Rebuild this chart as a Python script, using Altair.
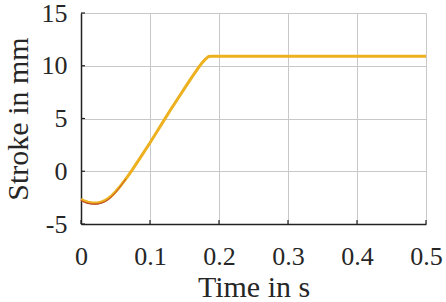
import altair as alt
import pandas as pd

# Time in s and stroke in mm
t_vals = [0.0, 0.005, 0.01, 0.015, 0.02, 0.025, 0.03, 0.035, 0.04, 0.045, 0.05, 0.055, 0.06,
          0.065, 0.07, 0.075, 0.08, 0.09, 0.10, 0.11, 0.12, 0.13, 0.14, 0.15, 0.16, 0.17,
          0.175, 0.18, 0.185, 0.19, 0.25, 0.3, 0.35, 0.4, 0.45, 0.5]
stroke_a = [-2.65, -2.82, -2.93, -2.99, -3.0, -2.98, -2.9, -2.76, -2.55, -2.28, -1.95, -1.57, -1.15,
            -0.72, -0.27, 0.2, 0.7, 1.7, 2.7, 3.75, 4.8, 5.85, 6.85, 7.85, 8.85, 9.8,
            10.25, 10.6, 10.88, 10.9, 10.9, 10.9, 10.9, 10.9, 10.9, 10.9]
stroke_b = [-2.75, -2.92, -3.03, -3.09, -3.1, -3.08, -3.0, -2.86, -2.65, -2.36, -2.02, -1.62, -1.18,
            -0.74, -0.28, 0.2, 0.7, 1.7, 2.7, 3.75, 4.8, 5.85, 6.85, 7.85, 8.85, 9.8,
            10.25, 10.6, 10.88, 10.9, 10.9, 10.9, 10.9, 10.9, 10.9, 10.9]
x_ticks = [0, 0.1, 0.2, 0.3, 0.4, 0.5]
y_ticks = [-5, 0, 5, 10, 15]

W, H = 345, 211
FONT = "Liberation Serif"

df = pd.DataFrame({"t": t_vals, "a": stroke_a, "b": stroke_b})

xs = alt.Scale(domain=[0, 0.5], nice=False, zero=False)
ys = alt.Scale(domain=[-5, 15], nice=False, zero=False)

xaxis = alt.Axis(values=x_ticks, title="Time in s", labelPadding=19, titlePadding=3,
                 labelExpr="toString(datum.value)", labelFlush=False)
yaxis = alt.Axis(values=y_ticks, title="Stroke in mm", labelPadding=14, titlePadding=8,
                 labelExpr="toString(datum.value)")

base = alt.Chart(df)
red = base.mark_line(color="#A2142F", strokeWidth=1.5).encode(
    x=alt.X("t:Q", scale=xs, axis=xaxis), y=alt.Y("b:Q", scale=ys, axis=yaxis))
orange = base.mark_line(color="#EDB120", strokeWidth=3).encode(
    x=alt.X("t:Q", scale=xs), y=alt.Y("a:Q", scale=ys))
red_top = base.mark_line(color="#A2142F", strokeWidth=1, opacity=0.6).transform_filter(
    "datum.t < 0.07").encode(x=alt.X("t:Q", scale=xs), y=alt.Y("b:Q", scale=ys))

yt = alt.Chart(pd.DataFrame({"v": y_ticks})).mark_rule(color="#222222", strokeWidth=1.2).encode(
    y=alt.Y("v:Q", scale=ys), x=alt.value(0), x2=alt.value(4))
xt = alt.Chart(pd.DataFrame({"v": x_ticks})).mark_rule(color="#222222", strokeWidth=1.2).encode(
    x=alt.X("v:Q", scale=xs), y=alt.value(H), y2=alt.value(H - 4))

chart = alt.layer(red, orange, red_top, yt, xt).properties(
    width=W, height=H,
    autosize=alt.AutoSizeParams(type="none"),
    padding={"left": 81, "top": 13, "right": 20, "bottom": 78},
).configure(background="white", font=FONT).configure_view(stroke=None).configure_axis(
    grid=True, gridColor="#c8c8c8", gridWidth=1, ticks=False,
    domainColor="#222222", domainWidth=1.5,
    labelFont=FONT, labelFontSize=26, labelColor="#262626",
    titleFont=FONT, titleFontSize=30, titleFontWeight="normal", titleColor="#262626",
)

chart.save("out.html", embed_options={"renderer": "svg", "actions": False})
